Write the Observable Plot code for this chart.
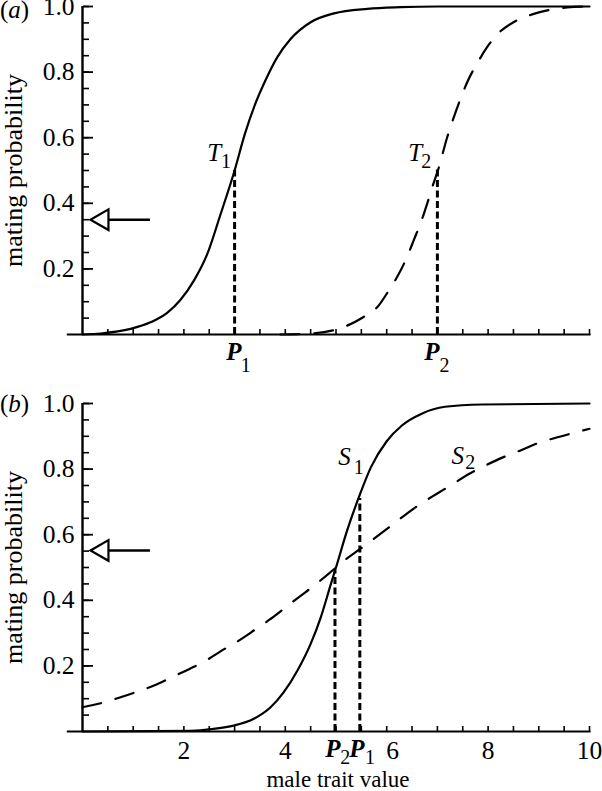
<!DOCTYPE html>
<html><head><meta charset="utf-8">
<script src="https://cdn.jsdelivr.net/npm/d3@7"></script>
<script src="https://cdn.jsdelivr.net/npm/@observablehq/plot@0.6"></script>
<style>
body{margin:0;background:#fff;}
#wrap{position:relative;width:602px;height:791px;}
#wrap svg{position:absolute;left:0;overflow:visible;}
</style></head><body><div id="wrap"></div>
<script>
// ---- data ----
// panel (a): T1 solid, T2 dashed
const t1X = [0, 0.36, 0.95, 1.34, 1.67, 1.93, 2.2, 2.46, 2.72, 3.0, 3.2, 3.4, 3.6, 3.84, 4.1, 4.5, 4.96, 5.62, 6.27, 7.0, 8.0, 10.0];
const t1Y = [0, 0.003, 0.017, 0.037, 0.066, 0.105, 0.165, 0.245, 0.365, 0.5, 0.61, 0.7, 0.772, 0.845, 0.9, 0.952, 0.979, 0.993, 0.998, 1.0, 1.0, 1.0];
const t2X = [3.9, 4.5, 5.22, 5.52, 5.84, 6.04, 6.24, 6.4, 6.54, 6.67, 6.8, 6.9, 7.03, 7.19, 7.33, 7.46, 7.59, 7.79, 7.98, 8.18, 8.5, 8.87, 9.23, 9.56, 10.0];
const t2Y = [0, 0.003, 0.027, 0.051, 0.088, 0.134, 0.185, 0.236, 0.29, 0.34, 0.4, 0.45, 0.51, 0.6, 0.665, 0.72, 0.77, 0.828, 0.876, 0.915, 0.952, 0.976, 0.99, 0.997, 1.0];
// panel (b): S1 solid, S2 dashed
const s1X = [0, 2.13, 2.59, 2.98, 3.38, 3.71, 3.97, 4.24, 4.5, 4.7, 4.9, 5.0, 5.22, 5.47, 5.69, 6.0, 6.3, 6.69, 7.15, 7.88, 10.0];
const s1Y = [0, 0.002, 0.008, 0.018, 0.039, 0.074, 0.12, 0.186, 0.267, 0.348, 0.45, 0.5, 0.613, 0.722, 0.806, 0.885, 0.933, 0.969, 0.99, 0.997, 1.0];
const s2X = [0, 0.36, 0.72, 1.05, 1.41, 1.74, 2.1, 2.43, 2.73, 3.06, 3.38, 3.68, 3.97, 4.27, 4.57, 4.87, 5.16, 5.49, 5.77, 6.07, 6.36, 6.66, 6.99, 7.32, 7.62, 7.95, 8.28, 8.64, 9.0, 9.37, 9.73, 10.0];
const s2Y = [0.074, 0.086, 0.103, 0.12, 0.14, 0.164, 0.19, 0.216, 0.245, 0.275, 0.308, 0.34, 0.374, 0.41, 0.445, 0.483, 0.521, 0.558, 0.59, 0.625, 0.66, 0.693, 0.725, 0.756, 0.785, 0.811, 0.835, 0.857, 0.88, 0.897, 0.912, 0.923];
// dotted drop lines (P positions and their tops)
const pAx = [3.0, 7.0];
const pAtop = [0.5, 0.51];
const pBx = [4.98, 5.47];
const pBtop = [0.49, 0.71];
// arrow levels
const arrowA = 0.35;
const arrowB = 0.552;
// tick values / labels
const yTickLabels = [0.2, 0.4, 0.6, 0.8, 1.0];
const yMinorTicks = d3.range(1, 21).map(i => +(i * 0.05).toFixed(2));
const xTickLabels = [2, 4, 6, 8, 10];
const xMinorTicks = d3.range(1, 21).map(i => i * 0.5);

const pts = (X, Y) => X.map((x, i) => ({x, y: Y[i]}));
const SERIF = '"Liberation Serif", "Times New Roman", serif';

function commonMarks(arrowY) {
  return [
    Plot.ruleY([0], {x1: -0.3, x2: 10.03, strokeWidth: 2.2}),
    Plot.ruleX([0], {y1: 0, y2: 1, strokeWidth: 2.4}),
    Plot.axisY(yMinorTicks, {anchor: "right", frameAnchor: "left", tickSize: 6, fill: "none", strokeWidth: 1.6, label: null}),
    Plot.axisY(yTickLabels, {anchor: "right", frameAnchor: "left", tickSize: 10, fill: "none", strokeWidth: 1.8, label: null}),
    Plot.axisX(xMinorTicks, {anchor: "top", frameAnchor: "bottom", tickSize: 6, fill: "none", strokeWidth: 1.6, label: null}),
    Plot.text(yTickLabels, {y: d => d, text: d => d.toFixed(1), frameAnchor: "left", dx: -8, textAnchor: "end", lineAnchor: "middle", fontSize: 25.5}),
    Plot.text(["mating probability"], {frameAnchor: "left", dx: -69, rotate: -90, textAnchor: "middle", lineAnchor: "middle", fontSize: 26}),
    Plot.ruleY([arrowY], {x1: 0.39, x2: 1.34, strokeWidth: 2.5}),
    Plot.dot([arrowY], {x: 0.394, y: d => d, symbol: "triangle", rotate: -90, r: 7.7, fill: "white", stroke: "black", strokeWidth: 2.2})
  ];
}

function letter(t, x, y, sub, sx, sy, bold) {
  return [
    Plot.text([t], {x, y, fontStyle: "italic", fontWeight: bold ? "bold" : "normal", fontSize: 25, lineAnchor: "bottom"}),
    Plot.text([sub], {x: sx, y: sy, fontSize: 20, lineAnchor: "bottom"})
  ];
}

const style = {fontFamily: SERIF, fontSize: "24px", color: "black", background: "transparent", overflow: "visible"};

const plotA = Plot.plot({
  width: 602, height: 390,
  marginLeft: 82, marginRight: 13, marginTop: 6, marginBottom: 56,
  x: {domain: [0, 10], axis: null},
  y: {domain: [0, 1], axis: null},
  style,
  marks: [
    ...commonMarks(arrowA),
    Plot.line(pts(t1X, t1Y), {x: "x", y: "y", curve: "monotone-x", strokeWidth: 2.2}),
    Plot.line(pts(t2X, t2Y), {x: "x", y: "y", curve: "monotone-x", strokeWidth: 2.2, strokeDasharray: "19,15"}),
    Plot.ruleX(pts(pAx, pAtop), {x: "x", y1: 0, y2: "y", strokeWidth: 3, strokeDasharray: "7,3.5"}),
    ...letter("T", 2.60, 0.53, "1", 2.83, 0.507, false),
    ...letter("T", 6.56, 0.53, "2", 6.78, 0.507, false),
    ...letter("P", 2.985, -0.079, "1", 3.22, -0.114, true),
    ...letter("P", 6.89, -0.079, "2", 7.14, -0.114, true)
  ]
});

const plotB = Plot.plot({
  width: 602, height: 401,
  marginLeft: 82, marginRight: 13, marginTop: 13, marginBottom: 60,
  x: {domain: [0, 10], axis: null},
  y: {domain: [0, 1], axis: null},
  style,
  marks: [
    ...commonMarks(arrowB),
    Plot.line(pts(s1X, s1Y), {x: "x", y: "y", curve: "monotone-x", strokeWidth: 2.2}),
    Plot.line(pts(s2X, s2Y), {x: "x", y: "y", curve: "monotone-x", strokeWidth: 2.2, strokeDasharray: "19,15"}),
    Plot.ruleX(pts(pBx, pBtop), {x: "x", y1: 0, y2: "y", strokeWidth: 3, strokeDasharray: "7,3.5"}),
    Plot.text(xTickLabels.filter(d => d !== 6), {x: d => d, text: d => String(d), frameAnchor: "bottom", dy: 27, lineAnchor: "bottom", fontSize: 25.5}),
    Plot.text(xTickLabels.filter(d => d === 6), {x: d => d, text: d => String(d), frameAnchor: "bottom", dy: 27, dx: 6, lineAnchor: "bottom", fontSize: 25.5}),
    Plot.text(["male trait value"], {frameAnchor: "bottom", dx: 2, dy: 55, textAnchor: "middle", lineAnchor: "bottom", fontSize: 23}),
    ...letter("S", 5.17, 0.814, "1", 5.45, 0.785, false),
    ...letter("S", 7.40, 0.817, "2", 7.65, 0.8, false),
    ...letter("P", 4.94, -0.079, "2", 5.18, -0.1, true),
    ...letter("P", 5.41, -0.079, "1", 5.67, -0.1, true)
  ]
});

const wrap = document.getElementById("wrap");
plotA.style.top = "0px";
plotB.style.top = "390px";
wrap.appendChild(plotA);
wrap.appendChild(plotB);

function panelTag(svg, ch, y) {
  const t = d3.select(svg).append("text")
    .attr("x", 0).attr("y", y)
    .attr("text-anchor", "start")
    .attr("font-family", SERIF).attr("font-size", 25).attr("fill", "black");
  t.append("tspan").text("(");
  t.append("tspan").attr("font-style", "italic").text(ch);
  t.append("tspan").text(")");
}
panelTag(plotA, "a", 18);
panelTag(plotB, "b", 22);
</script>
</body></html>
